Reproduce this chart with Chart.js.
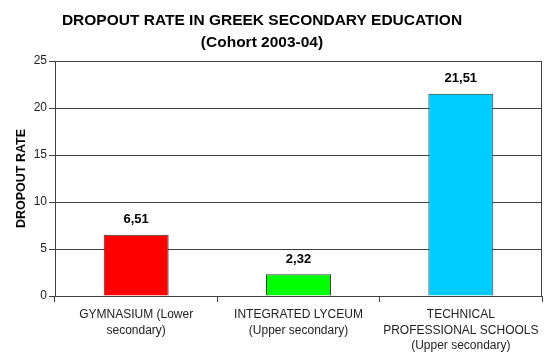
<!DOCTYPE html>
<html><head><meta charset="utf-8">
<script src="https://cdn.jsdelivr.net/npm/chart.js@4/dist/chart.umd.min.js"></script>
<style>html,body{margin:0;padding:0;background:#fff;}#wrap{width:560px;height:355px;position:relative;}</style>
</head><body><div id="wrap"><canvas id="c" width="560" height="355"></canvas></div>
<script>
const titleLines = ['DROPOUT RATE IN GREEK SECONDARY EDUCATION', '(Cohort 2003-04)'];
const categories = [['GYMNASIUM (Lower', 'secondary)'], ['INTEGRATED LYCEUM', '(Upper secondary)'], ['TECHNICAL', 'PROFESSIONAL SCHOOLS', '(Upper secondary)']];
const values = [6.51, 2.32, 21.51];
const valueLabels = ['6,51', '2,32', '21,51'];
const barColors = ['#FF0000', '#00FF00', '#00CCFF'];
const yTicks = [0, 5, 10, 15, 20, 25];
const yTitle = 'DROPOUT RATE';

const FONT = 'Arial, "Liberation Sans", sans-serif';

const titlePlugin = {
  id: 'titleLines',
  afterDraw(chart) {
    const ctx = chart.ctx;
    ctx.save();
    ctx.fillStyle = '#000';
    ctx.font = 'bold 15.5px ' + FONT;
    ctx.textAlign = 'center';
    ctx.textBaseline = 'middle';
    ctx.fillText(titleLines[0], 262, 21);
    ctx.fillText(titleLines[1], 262, 43);
    ctx.restore();
  }
};

const valuePlugin = {
  id: 'valueLabels',
  afterDatasetsDraw(chart) {
    const ctx = chart.ctx;
    const meta = chart.getDatasetMeta(0);
    ctx.save();
    ctx.fillStyle = '#000';
    ctx.font = 'bold 13px ' + FONT;
    ctx.textAlign = 'center';
    ctx.textBaseline = 'middle';
    meta.data.forEach((bar, i) => {
      ctx.fillText(valueLabels[i], bar.x, bar.y - 15);
    });
    ctx.restore();
  }
};

const borderPlugin = {
  id: 'plotBorder',
  afterDatasetsDraw(chart) {
    const a = chart.chartArea;
    const ctx = chart.ctx;
    ctx.save();
    ctx.strokeStyle = '#404040';
    ctx.lineWidth = 1;
    ctx.strokeRect(Math.round(a.left) + 0.5, Math.round(a.top) + 0.5, Math.round(a.right - a.left) - 1, Math.round(a.bottom - a.top));
    ctx.restore();
  }
};

new Chart(document.getElementById('c'), {
  type: 'bar',
  data: {
    labels: categories,
    datasets: [{
      data: values,
      backgroundColor: barColors,
      borderColor: '#333333',
      borderWidth: 1,
      categoryPercentage: 1,
      barPercentage: 0.4
    }]
  },
  options: {
    responsive: false,
    animation: false,
    devicePixelRatio: 1,
    layout: { padding: { top: 61, right: 18, left: 0, bottom: 0 } },
    plugins: { legend: { display: false }, tooltip: { enabled: false }, title: { display: false } },
    scales: {
      x: {
        afterFit(scale) { scale.height = 59; },
        grid: { display: true, drawOnChartArea: false, offset: true, color: '#404040', tickLength: 6 },
        border: { display: true, color: '#404040' },
        ticks: { color: '#222', font: { family: FONT, size: 12, lineHeight: 1.3 }, padding: 5, maxRotation: 0, autoSkip: false }
      },
      y: {
        min: 0, max: 25,
        afterFit(scale) { scale.width = 55; },
        afterBuildTicks(scale) { scale.ticks = yTicks.map(v => ({ value: v })); },
        grid: { color: '#404040', tickLength: 6, drawTicks: true },
        border: { display: true, color: '#404040' },
        ticks: { color: '#222', font: { family: FONT, size: 12 }, padding: 2 },
        title: { display: true, text: yTitle, color: '#000', font: { family: FONT, size: 12.5, weight: 'bold' }, padding: { top: 14, bottom: 0 } }
      }
    }
  },
  plugins: [titlePlugin, valuePlugin, borderPlugin]
});
</script></body></html>
